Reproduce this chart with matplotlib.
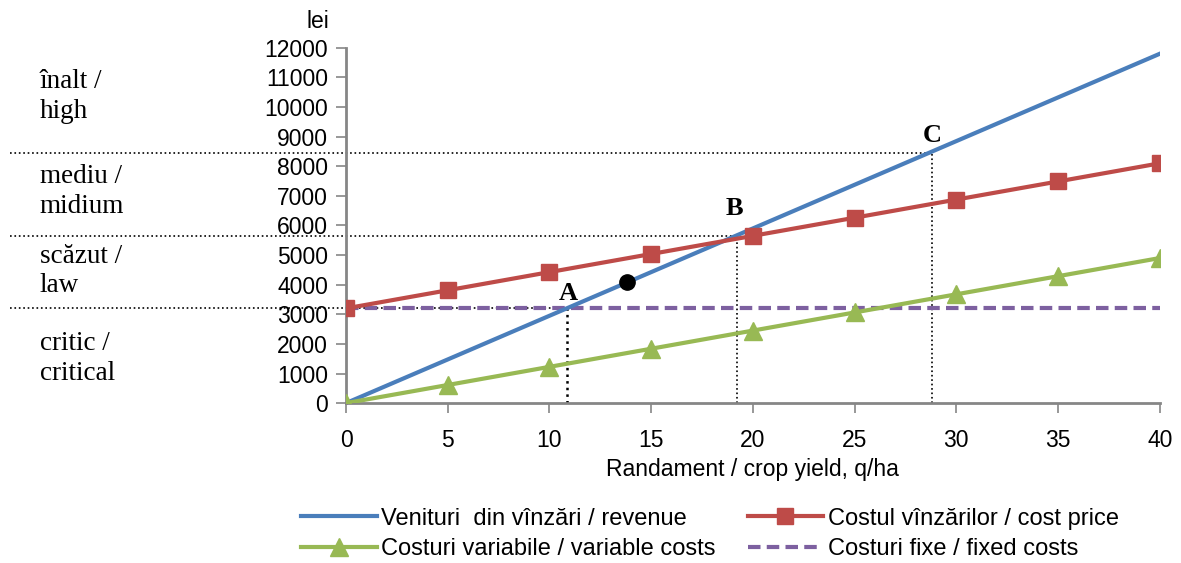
import matplotlib
matplotlib.use('Agg')
import matplotlib.pyplot as plt

# yield q/ha and the four series (lei)
yields = [0, 5, 10, 15, 20, 25, 30, 35, 40]
revenue = [0, 1475, 2950, 4425, 5900, 7375, 8850, 10325, 11800]
cost_price = [3200, 3812, 4425, 5037, 5650, 6262, 6875, 7487, 8100]
variable_costs = [0, 612, 1225, 1837, 2450, 3062, 3675, 4287, 4900]
fixed_costs = [3200] * 9

# break-even / threshold points
points = {'A': (10.85, 3200), 'B': (19.2, 5650), 'C': (28.8, 8450)}
dot = (13.8, 4090)

zones = [('înalt /\nhigh', 10350), ('mediu /\nmidium', 7150),
         ('scăzut /\nlaw', 4462), ('critic /\ncritical', 1504)]

BLUE = '#4a7ebb'
RED = '#be4b48'
GREEN = '#98b954'
PURPLE = '#7d60a0'
GREY = '#868686'

plt.rcParams['font.family'] = 'Liberation Sans'

fig = plt.figure(figsize=(11.81, 5.63), dpi=100)
ax = fig.add_axes([0.293, 0.284, 0.689, 0.631])

l_rev, = ax.plot(yields, revenue, color=BLUE, lw=3, label='Venituri  din vînzări / revenue', zorder=4)
l_cost, = ax.plot(yields, cost_price, color=RED, lw=3, marker='s', ms=11, label='Costul vînzărilor / cost price', zorder=4)
l_var, = ax.plot(yields, variable_costs, color=GREEN, lw=3, marker='^', ms=13, label='Costuri variabile / variable costs', zorder=4)
l_fix, = ax.plot(yields, fixed_costs, color=PURPLE, lw=3, ls=(0, (3, 1.5)), label='Costuri fixe / fixed costs', zorder=3)

# dotted guide lines
x_left = -16.5
for name, (px, py) in points.items():
    ax.plot([x_left, px], [py, py], color='black', ls=':', lw=1.2, clip_on=False, zorder=2)
    ax.plot([px, px], [0, py], color='black', ls=':', lw=1.8 if name == 'A' else 1.2, zorder=2)
ax.text(10.95, 3300, 'A', family='Liberation Serif', weight='bold', fontsize=19, ha='center', va='bottom')
ax.text(19.1, 6200, 'B', family='Liberation Serif', weight='bold', fontsize=19, ha='center', va='bottom')
ax.text(28.8, 8650, 'C', family='Liberation Serif', weight='bold', fontsize=19, ha='center', va='bottom')
ax.plot(*dot, 'o', color='black', ms=11, zorder=5)

for label, y in zones:
    ax.text(-15.05, y, label, family='Liberation Serif', fontsize=19.5, ha='left', va='center',
            linespacing=1.25, transform=ax.transData)

ax.set_xlim(0, 40)
ax.set_ylim(0, 12000)
ax.set_xticks(range(0, 41, 5))
ax.set_yticks(range(0, 12001, 1000))
ax.tick_params(labelsize=16.5, color=GREY, length=7, width=1.2)
ax.tick_params(axis='x', pad=12)
ax.tick_params(axis='y', pad=6)
for s in ['top', 'right']:
    ax.spines[s].set_visible(False)
for s in ['left', 'bottom']:
    ax.spines[s].set_color(GREY)
    ax.spines[s].set_linewidth(2)
ax.set_xlabel('Randament / crop yield, q/ha', fontsize=16.5, labelpad=4)
ax.text(-1.4, 12900, 'lei', fontsize=16.5, ha='center', va='center')

handles = [l_rev, l_var, l_cost, l_fix]
ax.legend(handles, [h.get_label() for h in handles],
          loc='upper left', bbox_to_anchor=(-0.067, -0.268), ncol=2, frameon=False,
          fontsize=17, handlelength=3.2, handletextpad=0.2, columnspacing=1.35,
          labelspacing=0.37, borderaxespad=0)

fig.savefig('out.png', dpi=100)
